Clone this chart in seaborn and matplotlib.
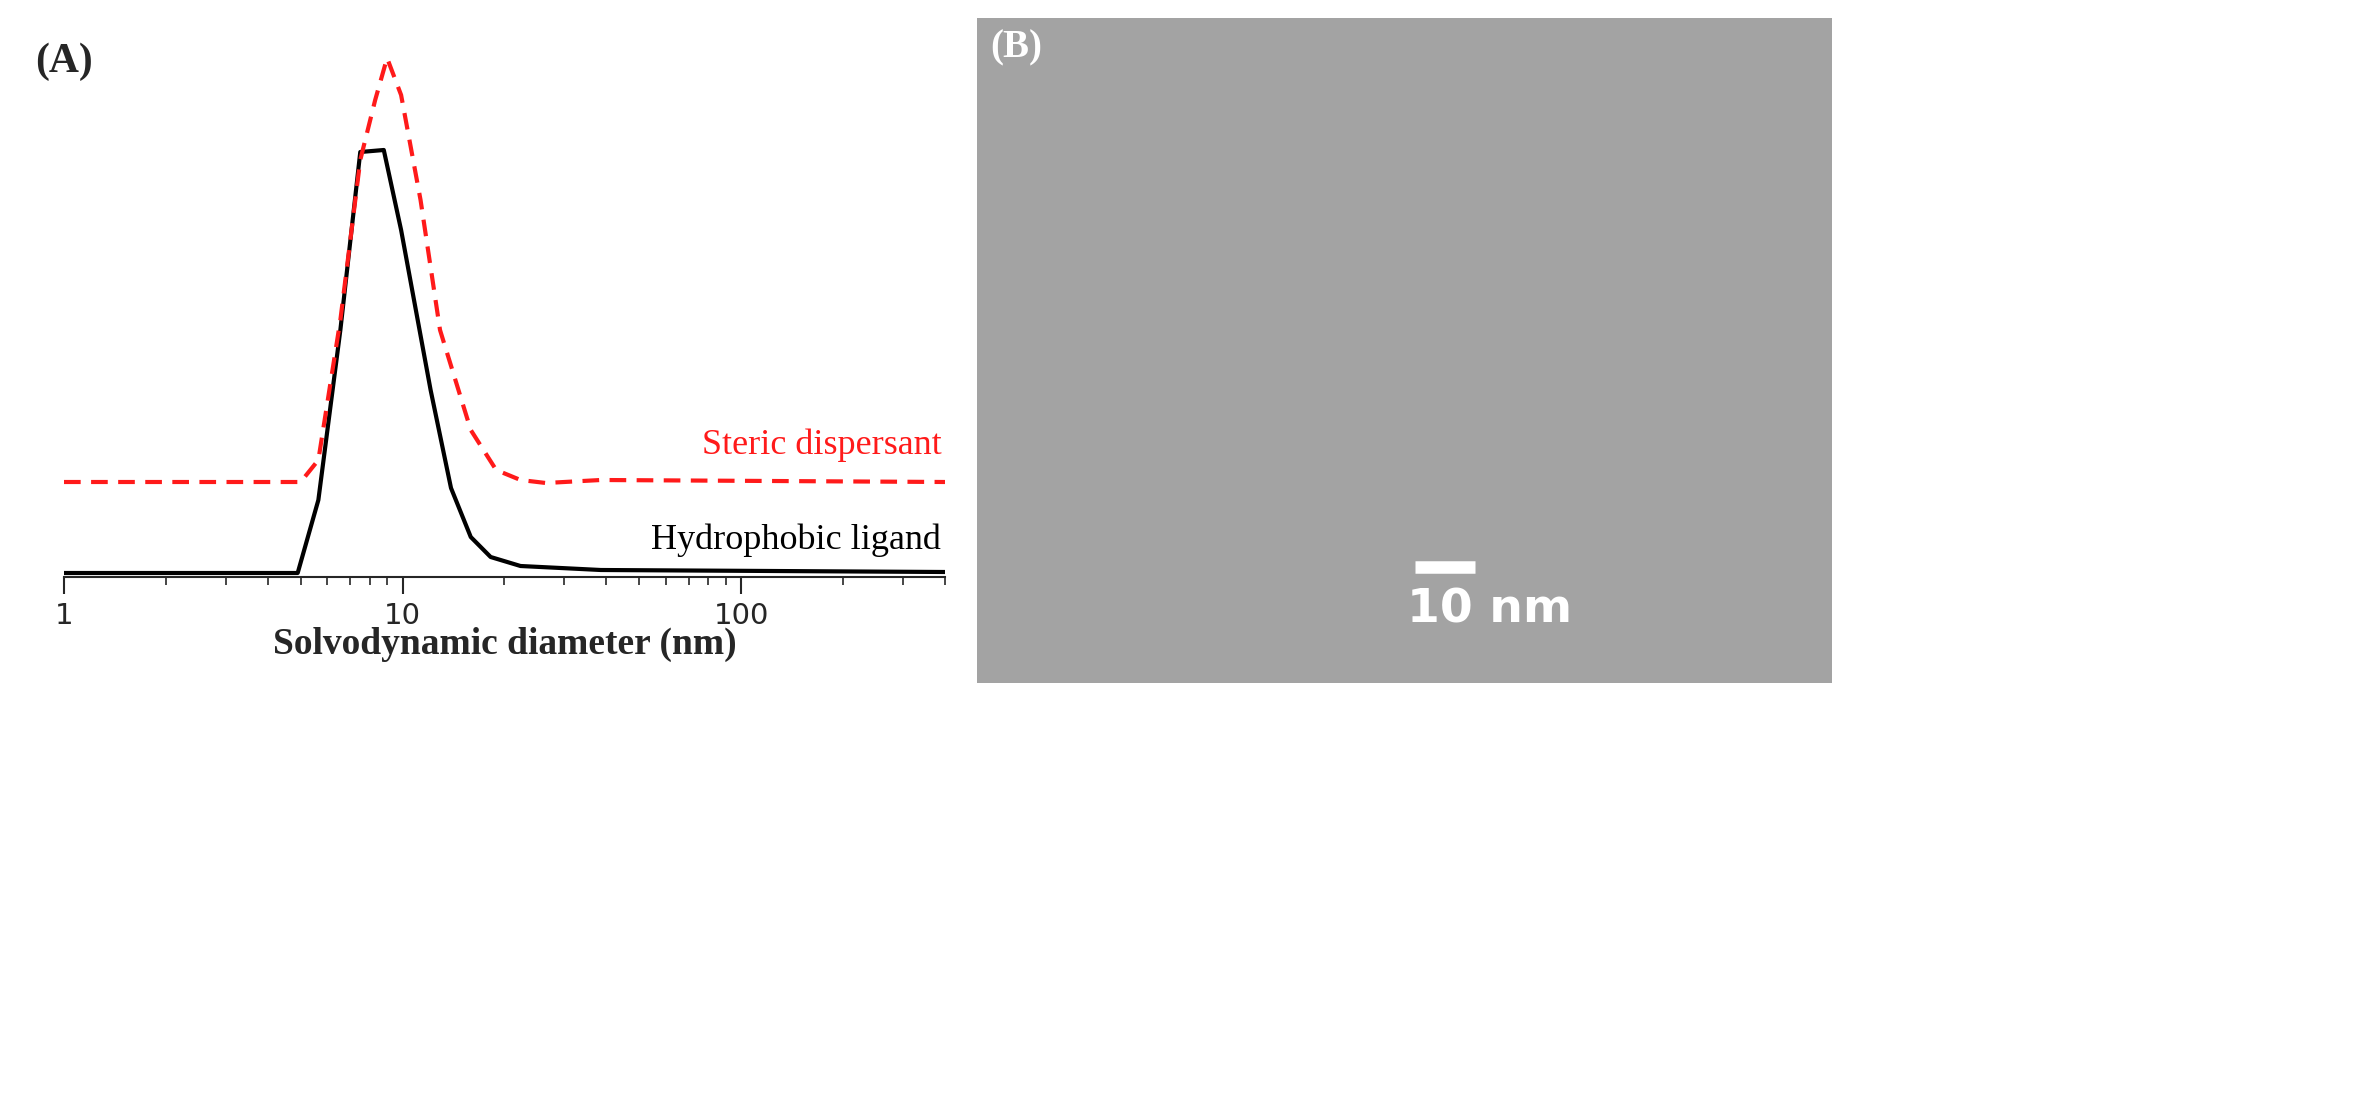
import numpy as np
import matplotlib
matplotlib.use("Agg")
import matplotlib.pyplot as plt
import seaborn as sns
import pandas as pd

sns.set_style("ticks")

black_x = [1, 4.9, 5.64, 6.55, 7.5, 8.8, 9.9, 12.1, 13.9, 15.9, 18.2, 22.3, 38.5, 400]
black_y = [0.04, 0.04, 0.77, 2.47, 4.25, 4.27, 3.47, 1.87, 0.89, 0.40, 0.20, 0.11, 0.07, 0.05]
red_x = [1, 5.0, 5.64, 6.55, 7.5, 8.3, 9.0, 9.9, 11.3, 12.9, 15.9, 18.9, 22.3, 26.5, 38.5, 400]
red_y = [0.95, 0.95, 1.17, 2.57, 4.17, 4.77, 5.19, 4.82, 3.77, 2.47, 1.47, 1.07, 0.97, 0.94, 0.97, 0.95]

dfb = pd.DataFrame({"x": black_x, "y": black_y})
dfr = pd.DataFrame({"x": red_x, "y": red_y})

fig = plt.figure(figsize=(23.68, 10.94), dpi=100)
ax = fig.add_axes([64/2368, 1-577/1094, (945-64)/2368, (577-20)/1094])
sns.lineplot(data=dfb, x="x", y="y", ax=ax, color="black", lw=3)
sns.lineplot(data=dfr, x="x", y="y", ax=ax, color="#ff1a1a", lw=3, linestyle=(0, (4, 2.5)))
ax.set_xscale("log")
ax.set_xlim(1, 400)
ax.set_ylim(0, 5.57)
ax.set_yticks([])
for s in ["top", "right", "left"]:
    ax.spines[s].set_visible(False)
ax.spines["bottom"].set_linewidth(1.5)
ax.tick_params(axis="x", which="major", length=12, width=1.5, labelsize=21, pad=6)
ax.tick_params(axis="x", which="minor", length=6, width=1.2)
ax.set_xticks([1, 10, 100])
ax.set_xticklabels(["1", "10", "100"])
ax.set_xlabel("Solvodynamic diameter (nm)", fontsize=27, fontweight="bold",
              family="Liberation Serif", labelpad=-2)
ax.set_ylabel("")
ax.text(390, 1.15, "Steric dispersant", color="#ff1a1a", fontsize=26,
        family="Liberation Serif", ha="right", va="bottom")
ax.text(390, 0.2, "Hydrophobic ligand", color="black", fontsize=26,
        family="Liberation Serif", ha="right", va="bottom")
fig.text(35/2368, 1-62/1094, "(A)", fontsize=30, fontweight="bold",
         family="Liberation Serif", va="center")

# Panel B: micrograph placeholder
axb = fig.add_axes([977/2368, 1-683/1094, (1832-977)/2368, (683-18)/1094])
axb.set_facecolor("#a3a3a3")
axb.set_xlim(0, 1); axb.set_ylim(0, 1)
axb.set_xticks([]); axb.set_yticks([])
for s in axb.spines.values():
    s.set_visible(False)
axb.text(0.015, 0.955, "(B)", color="white", fontsize=28, fontweight="bold",
         family="Liberation Serif", va="center", transform=axb.transAxes)
axb.plot([0.512, 0.583], [0.175, 0.175], color="white", lw=9, solid_capstyle="butt")
axb.text(0.6, 0.11, "10 nm", color="white", fontsize=34, fontweight="bold",
         ha="center", va="center")

fig.savefig("out.png", dpi=100)
